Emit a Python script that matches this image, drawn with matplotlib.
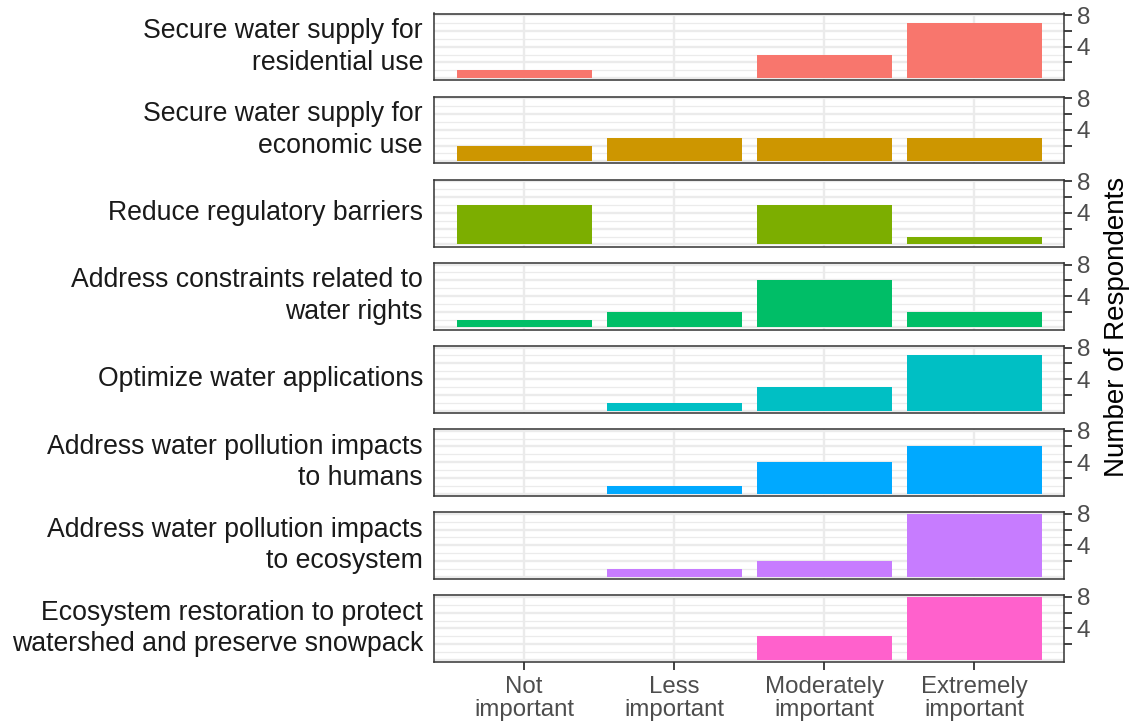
import matplotlib
matplotlib.use("Agg")
import matplotlib.pyplot as plt
import numpy as np

plt.rcParams['font.family'] = ['Liberation Sans', 'DejaVu Sans']

categories = ["Not\nimportant", "Less\nimportant", "Moderately\nimportant", "Extremely\nimportant"]
facets = [
    "Secure water supply for\nresidential use",
    "Secure water supply for\neconomic use",
    "Reduce regulatory barriers",
    "Address constraints related to\nwater rights",
    "Optimize water applications",
    "Address water pollution impacts\nto humans",
    "Address water pollution impacts\nto ecosystem",
    "Ecosystem restoration to protect\nwatershed and preserve snowpack",
]
residential = [1, 0, 3, 7]
economic = [2, 3, 3, 3]
regulatory = [5, 0, 5, 1]
water_rights = [1, 2, 6, 2]
applications = [0, 1, 3, 7]
pollution_humans = [0, 1, 4, 6]
pollution_ecosystem = [0, 1, 2, 8]
restoration = [0, 0, 3, 8]
series = [residential, economic, regulatory, water_rights, applications,
          pollution_humans, pollution_ecosystem, restoration]
colors = ["#F8766D", "#CD9600", "#7CAE00", "#00BE67", "#00BFC4", "#00A9FF", "#C77CFF", "#FF61CC"]
yticks = [2, 4, 6, 8]
ytick_labels = ["", "4", "", "8"]

W, H = 1139, 726
fig = plt.figure(figsize=(W / 100, H / 100), dpi=100)
left_px, right_px = 434, 1064
top0, ph, pitch = 13.5, 66.8, 83.1
x = np.arange(1, len(categories) + 1)

for i, (name, vals, col) in enumerate(zip(facets, series, colors)):
    top = top0 + i * pitch
    ax = fig.add_axes([left_px / W, 1 - (top + ph) / H, (right_px - left_px) / W, ph / H])
    ax.set_facecolor("white")
    ax.set_xlim(0.4, 4.6)
    ax.set_ylim(-0.27, 8.22)
    for yv in [1, 3, 5, 7]:
        ax.axhline(yv, color="#EBEBEB", lw=0.9, zorder=0)
    for yv in [0, 2, 4, 6, 8]:
        ax.axhline(yv, color="#EBEBEB", lw=1.7, zorder=0)
    for xv in x:
        ax.axvline(xv, color="#EBEBEB", lw=1.7, zorder=0)
    ax.bar(x, vals, width=0.9, color=col, zorder=2)
    ax.yaxis.tick_right()
    ax.set_yticks(yticks)
    ax.set_yticklabels(ytick_labels)
    ax.tick_params(axis="y", length=6, width=1.3, color="#333333", labelsize=17.5,
                   labelcolor="#4D4D4D", pad=3)
    ax.set_xticks(x)
    if i == len(facets) - 1:
        ax.set_xticklabels(categories)
        ax.tick_params(axis="x", length=6, width=1.3, color="#333333", labelsize=17.3,
                       labelcolor="#4D4D4D", pad=4)
        for t in ax.get_xticklabels():
            t.set_linespacing(1.08)
    else:
        ax.tick_params(axis="x", length=0, labelbottom=False)
    for s in ax.spines.values():
        s.set_color("#333333")
        s.set_linewidth(1.1)
    ax.text(-11 / (right_px - left_px), 0.5, name, transform=ax.transAxes,
            ha="right", va="center", fontsize=19.2, color="#1A1A1A", linespacing=1.28)

fig.text(1117 / W, 1 - 327 / H, "Number of Respondents", rotation=90, ha="center",
         va="center", fontsize=20, color="black")

fig.savefig("out.png", dpi=100, facecolor="white")
